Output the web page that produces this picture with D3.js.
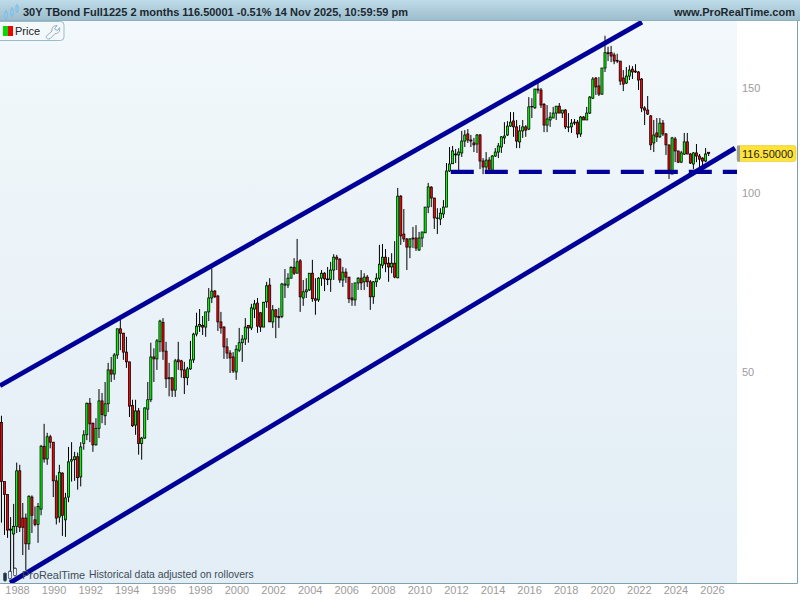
<!DOCTYPE html>
<html><head><meta charset="utf-8">
<script src="https://d3js.org/d3.v7.min.js"></script>
<style>html,body{margin:0;padding:0;background:#fff;overflow:hidden}svg{display:block;font-family:"Liberation Sans",Arial,sans-serif}</style>
</head><body><svg id="c" width="800" height="600"></svg>
<script>
const titleText = "30Y TBond Full1225 2 months 116.50001 -0.51% 14 Nov 2025, 10:59:59 pm";
const siteText = "www.ProRealTime.com";
const legendText = "Price";
const noteText = "Historical data adjusted on rollovers";
const brandText = "ProRealTime";
const lastPrice = 116.5;
const lastPriceText = "116.50000";
const yearTicks = [1988,1990,1992,1994,1996,1998,2000,2002,2004,2006,2008,2010,2012,2014,2016,2018,2020,2022,2024,2026];
const priceTicks = [50,100,150];
const firstBarYear = 1987.15, barsPerYear = 6;
const opens = [41.1,32.7,31.1,27.2,26.7,27.5,34.1,28.4,28.4,25.7,
30.8,28.2,27.7,29.4,37.5,35.7,38.9,38.1,32.8,28.5,
33.8,28.2,30.8,35.4,35.6,36.0,33.3,37.9,39.2,44.3,
41.0,37.7,40.2,44.7,42.2,44.2,50.4,49.6,53.4,59.1,
58.1,54.0,52.0,43.9,40.7,43.0,37.9,38.7,43.3,44.9,
53.0,52.6,56.2,60.6,54.2,48.7,48.9,46.6,52.4,52.2,
50.4,48.9,50.6,52.4,57.9,59.7,59.9,59.5,63.1,66.6,
68.4,67.1,60.7,59.5,55.1,53.8,53.0,50.0,54.4,56.0,
56.8,59.9,59.3,63.8,65.3,62.9,59.5,65.6,70.0,60.7,
63.6,62.0,62.0,70.0,70.0,71.9,75.0,73.3,76.9,66.6,
68.2,68.7,73.3,66.4,66.1,71.9,73.3,71.7,71.6,74.2,
78.0,77.4,71.4,73.6,72.2,66.6,66.1,70.6,71.9,70.9,
72.2,70.9,66.9,70.9,71.9,75.6,78.0,76.2,75.1,76.2,
72.0,98.8,85.3,83.7,81.1,84.0,84.0,80.2,84.0,85.7,
94.7,102.3,98.1,90.8,90.4,92.2,94.7,108.9,112.0,116.3,
115.9,116.8,122.3,125.7,122.8,121.4,120.9,125.2,113.2,110.6,
113.6,109.3,115.4,117.2,119.5,123.8,125.2,129.6,132.2,129.2,
121.9,127.2,129.2,128.1,139.9,139.1,149.6,149.0,141.0,130.1,
132.7,133.7,136.3,140.0,136.3,137.9,129.2,129.2,131.6,131.6,
125.7,134.2,132.7,136.3,144.4,156.1,151.4,146.7,162.3,172.2,
172.2,170.7,167.0,166.7,156.1,153.1,157.3,161.6,160.4,159.8,
155.5,139.0,137.9,134.8,121.4,126.2,124.3,131.1,125.7,120.5,
107.6,123.3,117.7,112.7,116.3,121.9,116.3,111.9,116.8,115.4,
114.5,113.2,117.1];
const closes = [32.7,31.1,27.1,27.1,27.5,34.1,27.4,27.4,25.7,30.9,
28.7,27.7,29.7,37.5,35.7,38.9,38.1,32.8,28.4,33.9,
28.7,30.7,35.3,35.6,36.0,33.2,37.4,39.2,44.3,40.9,
37.7,40.2,44.7,42.4,44.2,50.4,49.6,53.4,59.1,58.1,
54.0,52.0,43.8,40.6,43.0,37.9,38.7,43.5,44.9,53.0,
52.6,56.4,60.9,54.2,48.7,48.9,46.6,52.2,52.0,50.4,
48.9,50.6,52.4,57.9,59.7,60.1,59.5,63.1,66.6,68.4,
66.9,60.7,59.3,55.1,53.8,52.8,50.2,54.6,56.0,56.8,
59.5,59.3,64.1,65.1,59.7,59.5,65.5,69.8,60.7,63.6,
61.9,61.7,70.3,70.3,71.9,75.0,73.3,76.6,66.9,68.2,
68.7,73.3,66.4,66.0,71.9,73.3,71.7,71.5,74.2,78.0,
77.4,71.4,73.6,72.2,66.4,66.1,70.6,71.9,70.6,72.2,
70.9,66.9,70.9,71.9,75.9,78.0,76.0,75.1,76.2,72.2,
98.8,84.7,83.7,81.1,83.7,83.7,80.8,84.0,86.0,94.7,
102.4,98.1,90.8,90.6,92.5,94.7,108.9,111.9,117.7,115.9,
117.2,122.3,125.2,122.8,122.3,120.5,125.2,113.2,110.6,113.6,
109.7,115.4,117.2,120.0,124.3,124.7,129.6,131.6,129.2,122.3,
127.2,129.2,127.6,139.6,139.6,149.6,149.0,140.6,130.1,133.2,
134.2,136.3,140.0,136.3,137.9,129.2,129.0,131.1,131.1,125.7,
134.2,132.7,136.3,145.0,155.5,150.8,146.7,162.3,172.2,171.5,
170.0,166.7,166.7,154.3,152.5,157.3,161.0,159.8,159.8,154.9,
139.0,137.9,135.8,120.5,125.2,124.3,131.1,125.7,120.5,109.3,
123.8,117.7,112.7,116.8,121.9,116.3,112.3,116.8,115.4,114.0,
113.2,116.3,116.5];
const highs = [42.2,32.7,31.1,28.5,30.0,35.2,34.9,30.1,28.9,31.0,
31.0,29.7,30.1,37.7,40.9,39.5,39.2,38.1,33.5,34.9,
33.9,31.3,37.4,38.1,36.7,36.6,38.1,39.9,44.4,45.2,
41.1,41.8,46.8,46.1,48.1,51.8,53.0,53.8,59.1,61.2,
58.2,57.3,52.0,44.9,44.9,43.5,38.9,43.6,48.1,56.0,
54.8,56.8,61.2,61.6,56.2,51.8,48.9,52.6,56.2,52.4,
52.0,51.0,56.4,58.2,62.9,63.8,62.1,63.1,69.2,74.7,
68.7,67.4,63.1,59.7,57.0,54.4,54.0,55.5,59.3,57.7,
61.6,59.9,65.1,66.1,66.6,63.1,65.6,70.9,71.9,64.8,
63.8,64.1,70.6,74.5,73.3,75.3,77.7,83.7,77.4,71.4,
71.9,73.3,77.2,71.9,72.2,74.2,73.6,75.1,76.6,78.9,
78.7,77.7,75.1,74.7,72.2,70.6,70.6,72.2,74.2,73.3,
72.8,71.4,71.1,73.3,81.8,82.1,80.5,78.0,79.2,83.0,
102.0,99.2,94.0,84.0,84.0,87.7,88.3,86.0,86.0,94.7,
104.0,102.7,98.1,94.3,94.3,97.3,112.3,119.5,120.0,118.6,
119.0,127.2,127.6,128.1,125.2,123.8,125.7,125.7,114.5,117.2,
114.9,115.9,119.0,121.4,124.7,131.6,132.1,136.8,136.8,132.7,
130.1,132.7,130.1,145.0,144.4,149.6,153.1,150.2,141.7,140.6,
136.8,139.6,140.0,141.7,137.9,138.4,136.3,133.2,133.2,132.7,
134.8,134.8,139.6,145.6,156.7,156.7,156.7,162.3,183.9,176.2,
176.8,172.2,171.5,166.7,161.0,162.9,164.0,163.5,164.7,160.4,
156.1,140.0,145.6,135.3,132.7,133.7,133.7,132.7,126.2,120.5,
124.3,124.3,117.7,117.7,126.2,126.2,116.8,117.2,120.9,116.3,
114.9,119.0,117.2];
const lows = [27.9,26.6,26.3,22.5,23.0,26.8,26.9,24.6,23.2,25.1,
26.8,27.5,25.8,28.7,35.2,34.9,37.2,30.8,27.7,27.9,
26.5,26.4,30.2,32.7,32.8,31.7,32.1,37.0,38.4,38.1,
36.7,37.6,38.7,41.0,40.7,42.8,48.1,48.5,52.6,54.4,
52.4,50.8,42.0,40.4,39.2,36.3,35.6,38.6,41.5,44.5,
48.1,50.4,54.0,52.4,47.0,45.5,45.4,45.4,50.4,48.9,
45.9,47.5,50.4,51.8,57.4,58.4,57.7,57.3,60.9,65.3,
66.6,58.6,58.0,52.6,52.6,49.8,49.8,48.5,54.0,52.0,
55.5,56.0,58.8,61.6,58.2,58.4,59.5,64.1,60.7,59.3,
57.0,59.3,61.6,66.6,69.2,71.9,72.8,73.3,63.1,64.6,
66.6,68.4,65.6,62.4,65.6,69.8,68.4,70.0,68.2,71.4,
74.2,70.6,69.5,70.6,65.3,64.6,64.6,68.7,68.7,68.7,
69.5,63.6,65.1,69.5,71.4,74.7,73.6,70.9,73.3,71.9,
71.9,81.8,82.7,74.2,77.7,80.8,79.9,79.9,81.1,85.7,
92.5,94.7,87.0,85.3,88.3,90.8,94.7,108.5,111.9,112.3,
109.3,115.0,119.5,121.4,119.5,117.2,116.8,109.7,107.6,109.3,
107.6,108.1,115.0,114.5,116.8,120.9,124.7,129.2,124.3,119.0,
119.0,123.8,124.3,127.6,133.7,138.5,147.0,139.0,126.6,126.6,
129.2,133.7,132.7,136.3,133.7,128.1,126.6,126.2,130.1,123.8,
124.3,132.7,132.7,135.8,143.9,146.2,145.6,146.2,159.8,166.7,
166.0,164.7,165.4,151.9,148.4,152.5,154.9,155.5,159.2,149.0,
136.8,130.1,135.3,118.1,117.2,121.9,123.8,124.7,115.9,105.6,
107.6,112.7,112.3,112.3,115.9,116.3,111.9,109.7,112.7,110.2,
110.2,112.7,115.4];
const upperChannel = [[1987.07,47.4],[2022.17,193.9]];
const lowerChannel = [[1987.62,22.1],[2027.26,119.0]];
const supportLine = [[2011.72,108.5],[2027.4,108.5]];

const svg = d3.select("#c");
const W=800,H=600,plotL=0,plotR=737,plotT=21,plotB=583;
const x = d3.scaleLinear().domain([1988,2026]).range([17,712]);
const y = d3.scaleLog().domain([22.08,194.7]).range([plotB,plotT]);
const defs = svg.append("defs");
const g1 = defs.append("linearGradient").attr("id","hdr").attr("x1",0).attr("x2",0).attr("y1",0).attr("y2",1);
g1.append("stop").attr("offset",0).attr("stop-color","#bddbe8");
g1.append("stop").attr("offset",1).attr("stop-color","#9dbccb");
const g2 = defs.append("linearGradient").attr("id","bg").attr("x1",0).attr("x2",0).attr("y1",0).attr("y2",1);
g2.append("stop").attr("offset",0).attr("stop-color","#f2f8fb");
g2.append("stop").attr("offset",1).attr("stop-color","#e2edf5");
defs.append("clipPath").attr("id","plot").append("rect").attr("x",plotL).attr("y",plotT).attr("width",plotR-plotL).attr("height",plotB-plotT);

svg.append("rect").attr("width",W).attr("height",H).attr("fill","#fff");
svg.append("rect").attr("x",plotL).attr("y",plotT).attr("width",plotR-plotL).attr("height",plotB-plotT).attr("fill","url(#bg)");

// candles
const bars = d3.range(opens.length).map(i=>({yr:firstBarYear+i/barsPerYear,o:opens[i],h:highs[i],l:lows[i],c:closes[i]}));
const cg = svg.append("g").attr("clip-path","url(#plot)");
cg.selectAll("line.w").data(bars).join("line").attr("class","w")
  .attr("x1",d=>x(d.yr)).attr("x2",d=>x(d.yr)).attr("y1",d=>y(d.h)).attr("y2",d=>y(d.l))
  .attr("stroke","#000").attr("stroke-width",1);
cg.selectAll("rect.b").data(bars).join("rect").attr("class","b")
  .attr("x",d=>x(d.yr)-1.05).attr("width",2.1)
  .attr("y",d=>y(Math.max(d.o,d.c))).attr("height",d=>Math.max(0.4,y(Math.min(d.o,d.c))-y(Math.max(d.o,d.c))))
  .attr("fill",d=>d.c>=d.o?"#00ff00":"#ff0000").attr("stroke","#000").attr("stroke-width",0.75);

// channel lines
const line = d3.line().x(d=>x(d[0])).y(d=>y(d[1]));
const lg = svg.append("g").attr("clip-path","url(#plot)").attr("fill","none").attr("stroke","#000099");
lg.append("path").attr("d",line(upperChannel)).attr("stroke-width",4.8);
lg.append("path").attr("d",line(lowerChannel)).attr("stroke-width",4.8);
lg.append("path").attr("d",line(supportLine)).attr("stroke-width",4.2).attr("stroke-dasharray","23 11");

// frame
svg.append("path").attr("d",`M0,${plotB+.5}H797.5V21`).attr("fill","none").attr("stroke","#7f9fad").attr("stroke-width",1);

// axes
const ax = svg.append("g").attr("transform",`translate(0,${plotB})`)
  .call(d3.axisBottom(x).tickValues(yearTicks).tickFormat(d3.format("d")).tickSize(0).tickPadding(3));
ax.select(".domain").remove();
ax.selectAll("text").attr("fill","#9c9c9c").attr("font-size","11px").attr("font-family",'"Liberation Sans",Arial,sans-serif');
const ay = svg.append("g").attr("transform",`translate(${plotR},-0.5)`)
  .call(d3.axisRight(y).tickValues(priceTicks).tickFormat(d3.format("d")).tickSize(0).tickPadding(5));
ay.select(".domain").remove();
ay.selectAll("text").attr("fill","#9c9c9c").attr("font-size","11px").attr("font-family",'"Liberation Sans",Arial,sans-serif');

// price tag
const ty = y(lastPrice);
svg.append("rect").attr("x",737).attr("y",ty-8).attr("width",59).attr("height",16).attr("rx",2.5).attr("fill","#ffe23a").attr("stroke","#e3c63a").attr("stroke-width",0.6);
svg.append("rect").attr("x",737).attr("y",ty-8).attr("width",3).attr("height",16).attr("fill","#9a9a9a");
svg.append("text").attr("x",742).attr("y",ty+4).attr("font-size","11px").attr("fill","#222").text(lastPriceText);

// header
svg.append("rect").attr("width",W).attr("height",21).attr("fill","url(#hdr)");
svg.append("line").attr("x1",0).attr("x2",W).attr("y1",20.5).attr("y2",20.5).attr("stroke","#8fb0bf");
const logo = svg.append("g").attr("stroke","#6fb2e4").attr("fill","#8cc8f0");
[[6,10,20],[12,7,17],[17,4,13]].forEach(c=>{
  logo.append("line").attr("x1",c[0]).attr("x2",c[0]).attr("y1",c[1]).attr("y2",c[2]).attr("stroke-width",.8);
  logo.append("rect").attr("x",c[0]-1.2).attr("y",c[1]+2).attr("width",2.4).attr("height",c[2]-c[1]-4).attr("stroke-width",.4);
});
svg.append("text").attr("x",23).attr("y",16).attr("font-size","11px").attr("font-weight","700").attr("fill","#1c2830").text(titleText);
svg.append("text").attr("x",795).attr("y",16).attr("text-anchor","end").attr("font-size","11px").attr("font-weight","700").attr("fill","#1c2830").text(siteText);

// legend
svg.append("rect").attr("x",-4).attr("y",21.5).attr("width",68).attr("height",19).attr("rx",3.5).attr("fill","#f3f8fb").attr("stroke","#9dbccb");
svg.append("rect").attr("x",3).attr("y",26).attr("width",5).attr("height",10).attr("fill","#00dc00");
svg.append("rect").attr("x",8).attr("y",26).attr("width",5).attr("height",10).attr("fill","#f00000");
svg.append("text").attr("x",15).attr("y",35).attr("font-size","11px").attr("fill","#222").text(legendText);
svg.append("path").attr("d","M46,36.5l6-5.5c-0.5-2.5,1-5.5,5-5.5l-2.2,3 1,1.6 2.2,0 1.5-2.4c1,3-1,6-4.5,6l-5,5c-1.6,0.8-4-0.5-4-2.2z")
  .attr("fill","none").attr("stroke","#8aa3b3").attr("stroke-width",0.9);

// watermark
const wm = svg.append("g").attr("stroke","#26384a");
[[5,572,582,"#17364a"],[10,570,580,"#f3f8fb"],[15,567,577,"#f3f8fb"]].forEach(c=>{
  wm.append("line").attr("x1",c[0]).attr("x2",c[0]).attr("y1",c[1]).attr("y2",c[2]).attr("stroke-width",.8);
  wm.append("rect").attr("x",c[0]-1.3).attr("y",c[1]+1.5).attr("width",2.6).attr("height",c[2]-c[1]-3).attr("fill",c[3]).attr("stroke-width",.7);
});
svg.append("text").attr("x",22).attr("y",579).attr("font-size","10.9px").attr("fill","#3d4c57").text(brandText);
svg.append("text").attr("x",89).attr("y",578).attr("font-size","10.4px").attr("fill","#3d4c57").text(noteText);
</script></body></html>
